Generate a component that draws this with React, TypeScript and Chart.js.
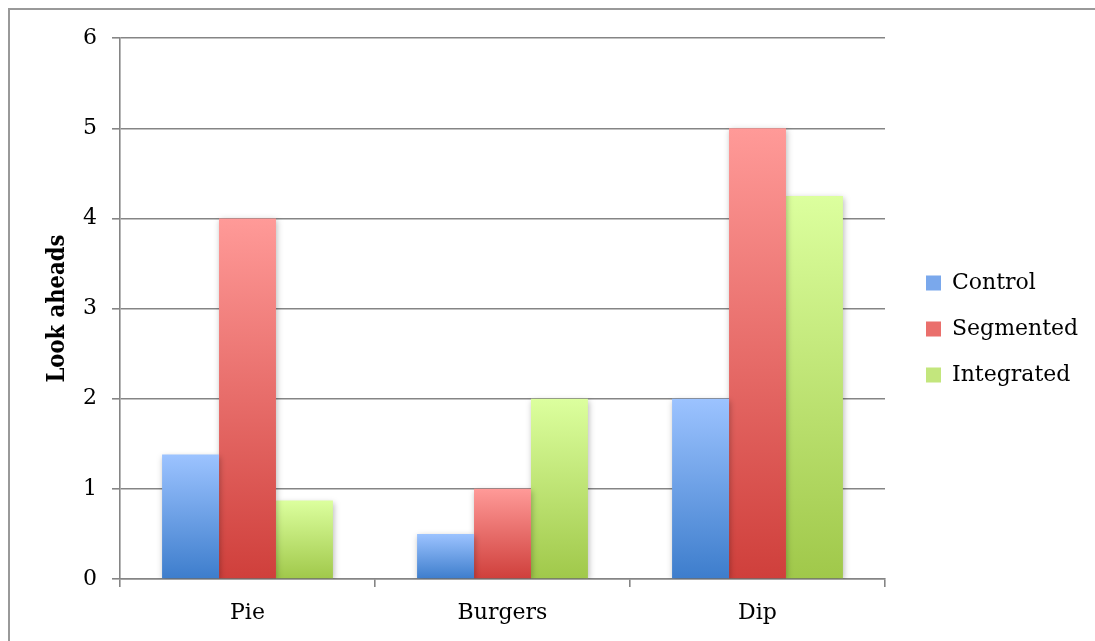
import React, { useEffect, useRef } from "react";
import { Chart, registerables } from "chart.js";

Chart.register(...registerables);

// Chart values
const categories = ["Pie", "Burgers", "Dip"];
const seriesNames = ["Control", "Segmented", "Integrated"];
const control = [1.38, 0.5, 2];
const segmented = [4, 1, 5];
const integrated = [0.87, 2, 4.25];
const yTicks = [0, 1, 2, 3, 4, 5, 6];
const yTitle = "Look aheads";

// Fill colours: light top, dark bottom of every bar
const gradientStops: [string, string][] = [
  ["#9cc3ff", "#3d7dcc"],
  ["#ff9a98", "#cf3f3b"],
  ["#dcff9e", "#a0c84a"],
];
const legendFills = ["#7aa8ec", "#ea6f6c", "#c3e67d"];

const CANVAS_W = 1085;
const CANVAS_H = 631;
const FONT = "'DejaVu Serif', serif";

function barFill(index: number) {
  return (c: any) => {
    const chart = c.chart;
    const [light, dark] = gradientStops[index];
    if (c.type !== "data" || !chart.chartArea || !chart.scales.y) return legendFills[index];
    const y = chart.scales.y;
    const top = y.getPixelForValue(c.parsed.y);
    const bottom = y.getPixelForValue(0);
    if (!isFinite(top) || !isFinite(bottom) || top === bottom) return legendFills[index];
    const g = chart.ctx.createLinearGradient(0, top, 0, bottom);
    g.addColorStop(0, light);
    g.addColorStop(1, dark);
    return g;
  };
}

// Widen the legend box and push its items away from the plot edge
const legendSpacing = {
  id: "legendSpacing",
  afterInit(chart: any) {
    const legend = chart.legend;
    if (!legend) return;
    const fit = legend.fit;
    legend.fit = function () {
      fit.call(this);
      this.width = 210;
    };
  },
  afterLayout(chart: any) {
    const legend = chart.legend;
    if (legend) {
      legend.left += 17;
      legend.top -= 10.5;
      legend.bottom -= 10.5;
    }
  },
};

// Soft drop shadow under the bars
const barShadow = {
  id: "barShadow",
  beforeDatasetsDraw(chart: any) {
    const ctx = chart.ctx;
    ctx.save();
    ctx.shadowColor = "rgba(0,0,0,0.28)";
    ctx.shadowBlur = 6;
    ctx.shadowOffsetX = 1;
    ctx.shadowOffsetY = 2;
  },
  afterDatasetsDraw(chart: any) {
    chart.ctx.restore();
  },
};

export default function App() {
  const canvasRef = useRef<HTMLCanvasElement | null>(null);

  useEffect(() => {
    const canvas = canvasRef.current;
    if (!canvas) return;
    const series = [control, segmented, integrated];
    const chart = new Chart(canvas, {
      type: "bar",
      data: {
        labels: categories,
        datasets: series.map((values, i) => ({
          label: seriesNames[i],
          data: values,
          backgroundColor: barFill(i),
          borderWidth: 0,
          categoryPercentage: 0.67,
          barPercentage: 1,
        })),
      },
      options: {
        responsive: false,
        animation: false,
        devicePixelRatio: 1,
        layout: { padding: { left: 34, top: 28, right: 0, bottom: 0 } },
        plugins: {
          tooltip: { enabled: false },
          legend: {
            display: true,
            position: "right",
            align: "center",
            labels: {
              color: "#000",
              font: { family: FONT, size: 22 },
              boxWidth: 15,
              boxHeight: 15,
              padding: 24,
              generateLabels: (ch: any) =>
                ch.data.datasets.map((ds: any, i: number) => ({
                  text: ds.label,
                  fillStyle: legendFills[i],
                  strokeStyle: legendFills[i],
                  lineWidth: 0,
                  hidden: false,
                  datasetIndex: i,
                })),
            },
          },
        },
        scales: {
          x: {
            offset: true,
            grid: {
              display: true,
              drawOnChartArea: false,
              drawTicks: true,
              tickLength: 8,
              color: "#858585",
              lineWidth: 1.6,
              offset: true,
            },
            border: { display: true, color: "#858585", width: 1.6 },
            ticks: {
              color: "#000",
              font: { family: FONT, size: 22 },
              padding: 13,
              maxRotation: 0,
            },
            afterFit: (s: any) => {
              s.height = CANVAS_H - 569;
            },
          },
          y: {
            min: 0,
            max: 6,
            grid: {
              color: "#858585",
              lineWidth: 1.6,
              tickLength: 8,
              drawTicks: true,
            },
            border: { display: true, color: "#858585", width: 1.6 },
            ticks: {
              stepSize: 1,
              color: "#000",
              font: { family: FONT, size: 22 },
              padding: 15,
              callback: (v: any) => (yTicks.includes(Number(v)) ? String(v) : ""),
            },
            title: {
              display: true,
              text: yTitle,
              color: "#000",
              font: { family: "'DejaVu Serif Condensed', 'DejaVu Serif', serif", size: 23.5, weight: "bold" },
              padding: { top: 0, bottom: 0 },
            },
            afterFit: (s: any) => {
              s.width = 110 - 34;
            },
          },
        },
      },
      plugins: [legendSpacing, barShadow],
    });
    return () => chart.destroy();
  }, []);

  return (
    <div
      style={{
        position: "fixed",
        left: 8,
        top: 8,
        width: 1110,
        height: 650,
        boxSizing: "border-box",
        borderLeft: "2px solid #999",
        borderTop: "2px solid #999",
        background: "#fff",
      }}
    >
      <canvas
        ref={canvasRef}
        width={CANVAS_W}
        height={CANVAS_H}
        style={{ display: "block", width: CANVAS_W, height: CANVAS_H }}
      />
    </div>
  );
}
